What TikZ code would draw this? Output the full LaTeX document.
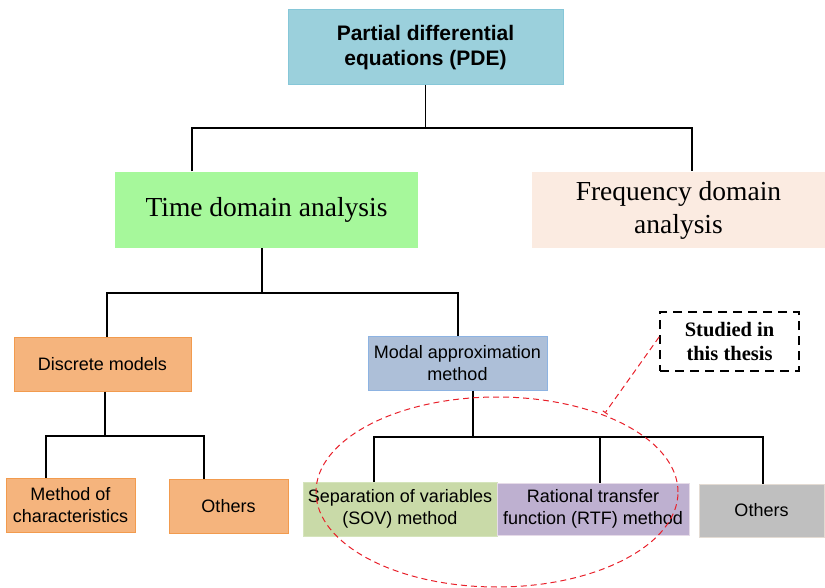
\documentclass[tikz,border=0pt]{standalone}
\usepackage{fontspec}
\setmainfont{Liberation Serif}
\setsansfont{Liberation Sans}
\usetikzlibrary{arrows.meta}
\definecolor{pdefill}{HTML}{9BD0DC}
\definecolor{pdeline}{HTML}{86C7D8}
\definecolor{timefill}{HTML}{A6F89B}
\definecolor{freqfill}{HTML}{FBEBE1}
\definecolor{orfill}{HTML}{F5B47D}
\definecolor{orline}{HTML}{F29B4E}
\definecolor{modfill}{HTML}{ADBFD8}
\definecolor{modline}{HTML}{8DB3E2}
\definecolor{sovfill}{HTML}{C9DAA8}
\definecolor{sovline}{HTML}{D5E4BC}
\definecolor{rtffill}{HTML}{BEB0D0}
\definecolor{rtfline}{HTML}{E6DBE8}
\definecolor{grfill}{HTML}{BFBFBF}
\definecolor{grline}{HTML}{E3DBD3}
\definecolor{ellred}{HTML}{E8202A}
\tikzset{
  box/.style={rectangle, inner sep=0pt, align=center, line width=1pt},
  sansbox/.style={box, font=\sffamily\fontsize{18}{22.5}\selectfont},
  serifbox/.style={box, font=\rmfamily\fontsize{27.5}{33}\selectfont},
  conn/.style={draw=black, line width=1.5pt},
}
\begin{document}
\begin{tikzpicture}[x=1pt,y=-1pt]
\useasboundingbox (0,0) rectangle (825,588);
% nodes
\node[box, draw=pdeline, fill=pdefill, minimum width=275pt, minimum height=75pt,
  font=\sffamily\bfseries\fontsize{21}{25.5}\selectfont] (pde) at (425.5,47.5) {Partial differential\\equations (PDE)};
\node[serifbox, fill=timefill, minimum width=303pt, minimum height=76pt] (time) at (266.5,210) {Time domain analysis};
\node[serifbox, fill=freqfill, minimum width=293pt, minimum height=76pt] (freq) at (678.5,210) {Frequency domain\\analysis};
\node[sansbox, draw=orline, fill=orfill, minimum width=177pt, minimum height=54pt] (disc) at (102.5,364) {Discrete models};
\node[sansbox, draw=modline, fill=modfill, minimum width=179pt, minimum height=54pt] (modal) at (457.5,363) {Modal approximation\\method};
\node[sansbox, draw=orline, fill=orfill, minimum width=129pt, minimum height=54pt] (moc) at (70.5,505) {Method of\\characteristics};
\node[sansbox, draw=orline, fill=orfill, minimum width=119pt, minimum height=54pt] (oth1) at (228.5,506) {Others};
\node[sansbox, draw=sovline, fill=sovfill, minimum width=194pt, minimum height=54pt] (sov) at (400,509) {Separation of variables\\(SOV) method};
\node[sansbox, draw=rtfline, fill=rtffill, minimum width=192pt, minimum height=52pt] (rtf) at (593,509) {Rational transfer\\function (RTF) method};
\node[sansbox, draw=grline, fill=grfill, minimum width=125pt, minimum height=53pt] (oth2) at (761.5,510.5) {Others};
\node[box, draw=black, dash pattern=on 9pt off 6pt, line width=1.8pt, minimum width=139pt, minimum height=59pt,
  font=\rmfamily\bfseries\fontsize{20.5}{24}\selectfont] (study) at (729.5,341.5) {Studied in\\this thesis};
% junctions
\coordinate (j1) at (425.5,128);
\coordinate (j2) at (262,293);
\coordinate (j3) at (105,436);
\coordinate (j4) at (473,437);
\coordinate (redend) at (605,413);
% connectors
\draw[conn] (pde.south) -- (j1);
\draw[conn] ([xshift=-74.5pt]time.north) |- (j1) -| ([xshift=13.5pt]freq.north);
\draw[conn] ([xshift=-4.5pt]time.south) -- (j2);
\draw[conn] ([xshift=4.5pt]disc.north) |- (j2) -| ([xshift=0.5pt]modal.north);
\draw[conn] ([xshift=2.5pt]disc.south) -- (j3);
\draw[conn] ([xshift=-24.5pt]moc.north) |- (j3) -| ([xshift=-24.5pt]oth1.north);
\draw[conn] ([xshift=15.5pt]modal.south) -- (j4);
\draw[conn] ([xshift=-26pt]sov.north) |- (j4) -| ([xshift=1.5pt]oth2.north);
\draw[conn] ([xshift=7pt]rtf.north) -- ([xshift=7pt]rtf.north |- j4);
% red annotation
\draw[ellred, line width=1pt, dash pattern=on 6pt off 4pt] (497,492) ellipse [x radius=181pt, y radius=95pt];
\draw[ellred, line width=1pt, dash pattern=on 6pt off 4pt, -{Bar[width=6pt]}] ([yshift=4.5pt]study.west) -- (redend);
\end{tikzpicture}
\end{document}
